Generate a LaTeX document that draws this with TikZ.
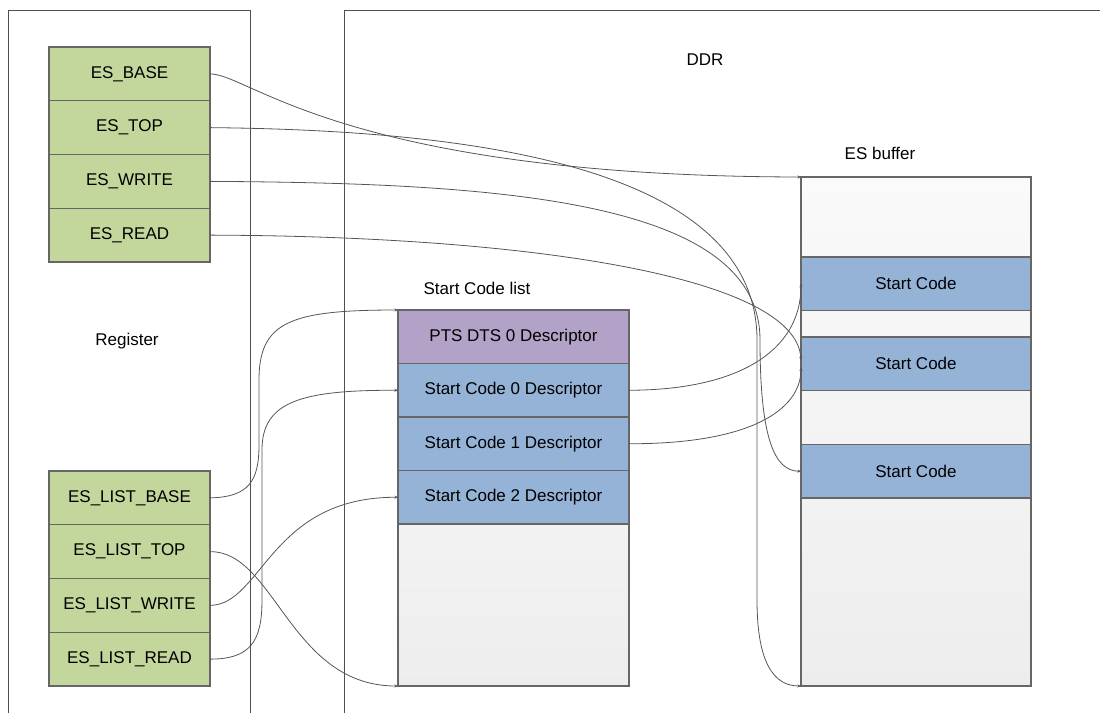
\documentclass[tikz,border=0pt]{standalone}
\usepackage{fontspec}
\setmainfont{Liberation Sans}
\usetikzlibrary{arrows.meta}
\definecolor{lgreen}{HTML}{C3D69B}
\definecolor{lblue}{HTML}{95B3D7}
\definecolor{lpurple}{HTML}{B3A2C7}
\definecolor{edgec}{HTML}{666666}
\definecolor{wirec}{HTML}{555555}
\definecolor{framec}{HTML}{505050}
\begin{document}
\begin{tikzpicture}[x=1pt,y=-1pt,
  txt/.style={font=\fontsize{17}{20}\selectfont, inner sep=0pt},
  cell/.style={draw=edgec, line width=1.1pt, minimum width=161pt, minimum height=53.75pt,
    inner sep=0pt, outer sep=0pt, anchor=north west, font=\fontsize{17}{20}\selectfont},
  reg/.style={cell, fill=lgreen},
  desc/.style={cell, minimum width=231pt, minimum height=53.5pt},
  sc/.style={cell, fill=lblue, minimum width=230pt, minimum height=53.5pt},
  area/.style={draw=edgec, line width=1.1pt, inner sep=0pt, outer sep=0pt, anchor=north west,
    top color=black!2, bottom color=black!7},
  framel/.style={draw=framec, line width=0.9pt},
  wire/.style={draw=wirec, line width=0.8pt, -{Stealth[length=3.5pt,width=3pt]}}
]
\useasboundingbox (0,0) rectangle (1100,713);
% containers
\draw[framel] (8,713) -- (8,10) -- (250,10) -- (250,713);
\draw[framel] (344,713) -- (344,10) -- (1100,10);
% labels
\node[txt] (lreg) at (127,341) {Register};
\node[txt] (lddr) at (705,60) {DDR};
\node[txt] (lesb) at (880,153) {ES buffer};
\node[txt] (lscl) at (477,288) {Start Code list};
% registers
\node[reg] (esbase) at (49,47) {ES\_BASE};
\node[reg] (estop) at (49,100.75) {ES\_TOP};
\node[reg] (eswrite) at (49,154.5) {ES\_WRITE};
\node[reg] (esread) at (49,208.25) {ES\_READ};
\node[reg] (lbase) at (49,471) {ES\_LIST\_BASE};
\node[reg] (ltop) at (49,524.75) {ES\_LIST\_TOP};
\node[reg] (lwrite) at (49,578.5) {ES\_LIST\_WRITE};
\node[reg] (lread) at (49,632.25) {ES\_LIST\_READ};
% start code list
\node[area, minimum width=231pt, minimum height=376pt] (list) at (398,310) {};
\node[desc, fill=lpurple] (pts) at (398,310) {PTS DTS 0 Descriptor};
\node[desc, fill=lblue] (scd0) at (398,363.5) {Start Code 0 Descriptor};
\node[desc, fill=lblue] (scd1) at (398,417) {Start Code 1 Descriptor};
\node[desc, fill=lblue] (scd2) at (398,470.5) {Start Code 2 Descriptor};
% ES buffer
\node[area, minimum width=230pt, minimum height=509pt] (esbuf) at (801,177) {};
\node[sc] (escA) at (801,257) {Start Code};
\node[sc] (escB) at (801,337) {Start Code};
\node[sc] (escC) at (801,444.5) {Start Code};
% connectors: ES registers
\draw[wire] (esbase.east) .. controls (250,74) and (345,176) .. (esbuf.north west);
\draw[wire] (estop.east) .. controls (450,130) and (757,160) .. (757,340) -- (757,600)
  .. controls (757,665) and (775,686) .. (esbuf.south west);
\draw[wire] (eswrite.east) .. controls (500,183) and (760,200) .. (760,340)
  .. controls (760,440) and (775,471) .. (escC.west);
\draw[wire] (esread.east) .. controls (520,236) and (796,275) .. ([yshift=3.5pt]escB.west);
\draw[wire] (scd0.east) .. controls (740,390) and (801,350) .. (escA.west);
\draw[wire] (scd1.east) .. controls (750,444) and (801,410) .. ([yshift=-3.5pt]escB.west);
% connectors: list registers
\draw[wire] (lbase.east) .. controls (248,497) and (259,482) .. (259,445) -- (259,380)
  .. controls (259,322) and (290,310) .. (pts.north west);
\draw[wire] (lread.east) .. controls (250,659) and (262,642) .. (262,600) -- (262,450)
  .. controls (262,402) and (300,390) .. (scd0.west);
\draw[wire] (lwrite.east) .. controls (262,605) and (270,497) .. (scd2.west);
\draw[wire] (ltop.east) .. controls (275,551) and (290,686) .. (list.south west);
\end{tikzpicture}
\end{document}
